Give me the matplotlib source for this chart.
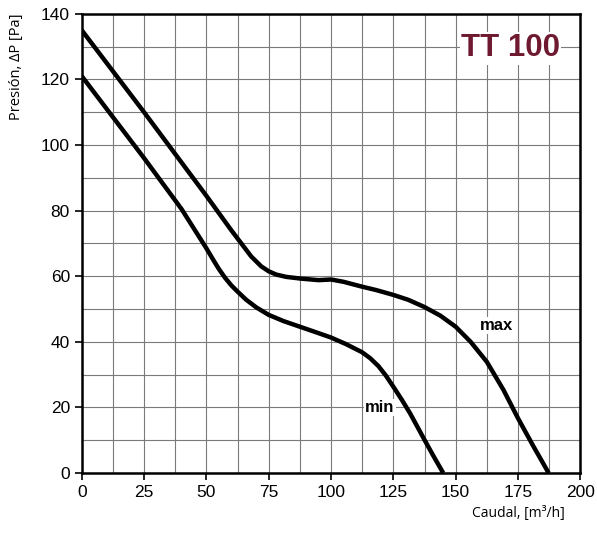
import matplotlib
matplotlib.use("Agg")
import matplotlib.pyplot as plt
import numpy as np

# ------------------------------------------------------------
# Data (TT 100 fan)
# ------------------------------------------------------------

max_flow = [0, 25, 50, 60, 64, 68, 72, 75, 78, 82, 87.5, 95, 100, 105,
            112.5, 118, 125, 131, 137.5, 143.8, 150, 156, 162.5, 169.2, 175,
            181.3, 187.3]
max_pres = [135, 110, 84.5, 74, 70, 66, 63, 61.5, 60.5, 59.8, 59.3, 58.8, 59, 58.3,
            56.8, 55.8, 54.3, 52.8, 50.6, 48.0, 44.6, 40.0, 33.9, 25.3, 16.7,
            8.0, 0]

min_flow = [0, 25, 40, 45, 50, 52.5, 55, 57.5, 60, 62.5, 66, 70, 75, 81, 87.5, 94,
            100, 106, 112.5, 115.7, 119, 122, 125, 128.5, 131.7, 134.5, 137.5,
            141, 145]
min_pres = [121, 96, 80.5, 74.5, 68.5, 65.3, 62.2, 59.5, 57.2, 55.3, 52.8, 50.5,
            48.2, 46.3, 44.6, 42.9, 41.3, 39.3, 36.8, 35.0, 32.6, 29.7, 26.3, 22.2,
            18.2, 14.3, 10.1, 5.3, 0]

x_ticks = [0, 25, 50, 75, 100, 125, 150, 175, 200]
y_ticks = [0, 20, 40, 60, 80, 100, 120, 140]

title_text = "TT 100"

# ------------------------------------------------------------
# Plot
# ------------------------------------------------------------

plt.rcParams["font.family"] = ["Liberation Sans", "DejaVu Sans"]

fig = plt.figure(figsize=(5.97, 5.33), dpi=100)
ax = fig.add_axes([0.137, 0.1126, 0.835, 0.8614])

for fx, fy in [(max_flow, max_pres), (min_flow, min_pres)]:
    ax.plot(fx, fy, color="black", lw=3.2, solid_capstyle="butt",
            solid_joinstyle="round", zorder=3)

ax.set_xlim(0, 200)
ax.set_ylim(0, 140)
ax.set_xticks(x_ticks)
ax.set_yticks(y_ticks)
ax.set_xticks(np.arange(0, 201, 12.5), minor=True)
ax.set_yticks(np.arange(0, 141, 10), minor=True)
ax.tick_params(which="minor", length=0)
ax.tick_params(which="major", length=5, width=1.2, labelsize=12.5, direction="out")
ax.grid(which="both", color="#7a7a7a", lw=0.8, zorder=0)
for s in ax.spines.values():
    s.set_linewidth(1.8)

ax.text(166.5, 45, "max", fontsize=12, fontweight="bold", ha="center", va="center",
        zorder=4, bbox=dict(facecolor="white", edgecolor="none", pad=1))
ax.text(119.5, 20, "min", fontsize=12, fontweight="bold", ha="center", va="center",
        zorder=4, bbox=dict(facecolor="white", edgecolor="none", pad=1))
ax.text(172, 129.5, title_text, fontsize=22.5, fontweight="bold", color="#6e1930",
        ha="center", va="center", zorder=4,
        bbox=dict(facecolor="white", edgecolor="none", pad=1))

fig.text(0.028, 0.9756, "Presión, ΔP [Pa]", rotation=90, ha="center", va="top",
         fontsize=10.5, family=["Open Sans", "DejaVu Sans"])
fig.text(0.946, 0.0375, "Caudal, [m³/h]", ha="right", va="center",
         fontsize=10, family=["Open Sans", "DejaVu Sans"])

fig.savefig("out.png", dpi=100)
